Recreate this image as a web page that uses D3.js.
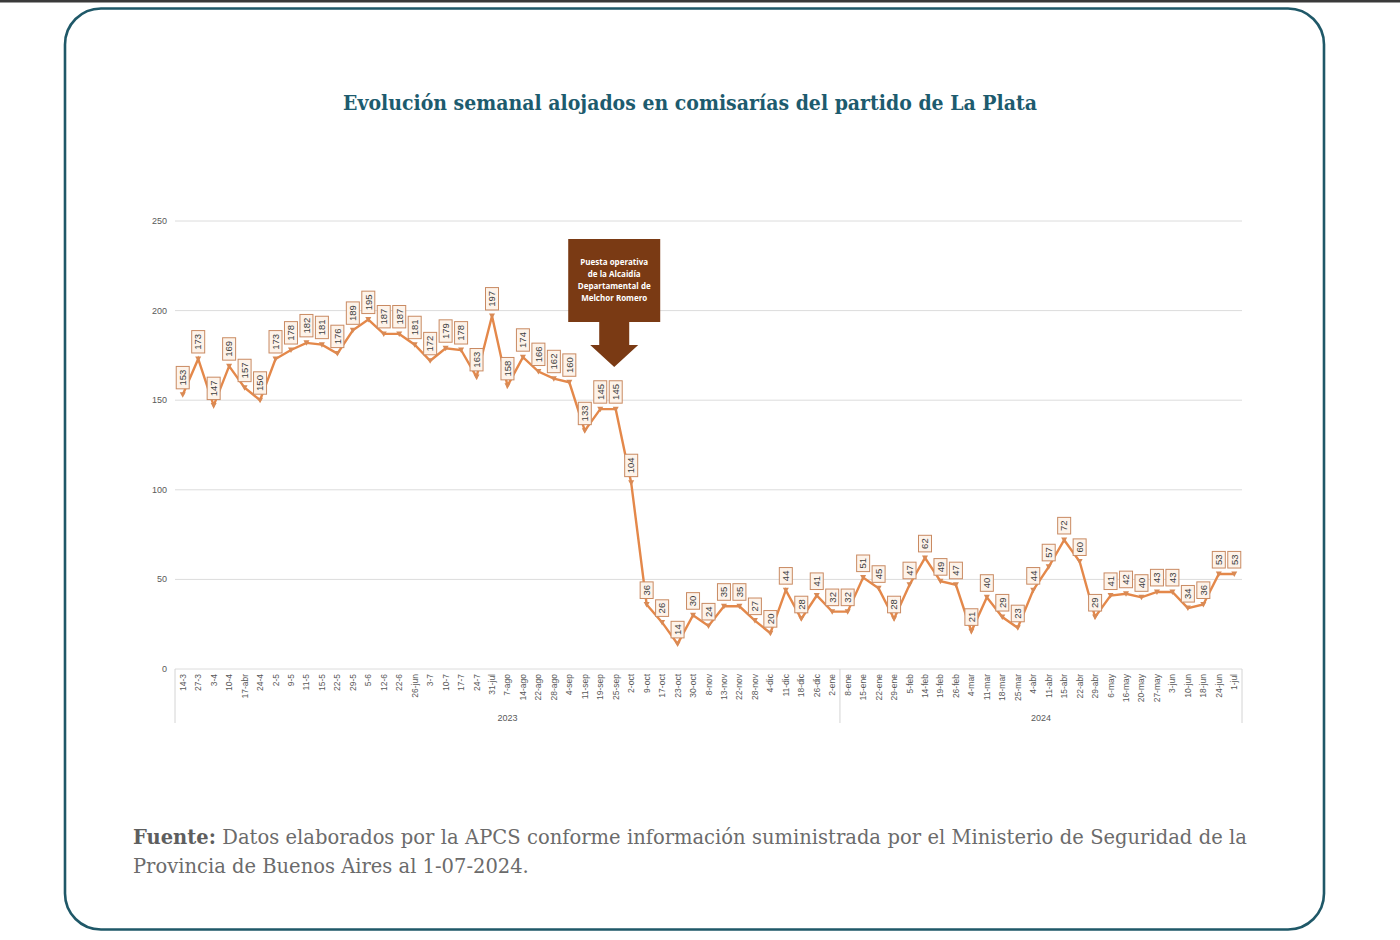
<!DOCTYPE html>
<html>
<head>
<meta charset="utf-8">
<script src="https://cdn.jsdelivr.net/npm/d3@7"></script>
<style>
  body { margin: 0; background: #fff; }
  svg { display: block; }
</style>
</head>
<body>
<svg width="1400" height="940"></svg>
<script>
const weeks2023 = ['14-3','27-3','3-4','10-4','17-abr','24-4','2-5','9-5','11-5','15-5',
  '22-5','29-5','5-6','12-6','22-6','26-jun','3-7','10-7','17-7','24-7',
  '31-jul','7-ago','14-ago','22-ago','28-ago','4-sep','11-sep','19-sep','25-sep','2-oct',
  '9-oct','17-oct','23-oct','30-oct','8-nov','13-nov','22-nov','28-nov','4-dic','11-dic',
  '18-dic','26-dic','2-ene'];
const weeks2024 = ['8-ene','15-ene','22-ene','29-ene','5-feb','14-feb','19-feb','26-feb','4-mar','11-mar',
  '18-mar','25-mar','4-abr','11-abr','15-abr','22-abr','29-abr','6-may','16-may','20-may',
  '27-may','3-jun','10-jun','18-jun','24-jun','1-jul'];
const alojados2023 = [153,173,147,169,157,150,173,178,182,181,
  176,189,195,187,187,181,172,179,178,163,
  197,158,174,166,162,160,133,145,145,104,
  36,26,14,30,24,35,35,27,20,44,
  28,41,32];
const alojados2024 = [32,51,45,28,47,62,49,47,21,40,
  29,23,44,57,72,60,29,41,42,40,
  43,43,34,36,53,53];
const yTicks = [0, 50, 100, 150, 200, 250];
const groups = ['2023', '2024'];
const annotationLines = ['Puesta operativa', 'de la Alcaidía', 'Departamental de', 'Melchor Romero'];
const annotationWeek = '25-sep';

const weeks = weeks2023.concat(weeks2024);
const values = alojados2023.concat(alojados2024);
const data = weeks.map((w, i) => ({ i: i, week: w, value: values[i] }));

const svg = d3.select('svg');
const serif = '"DejaVu Serif", "Liberation Serif", serif';
const sans = '"Liberation Sans", Arial, sans-serif';

// page decoration
svg.append('rect').attr('x', 0).attr('y', 0).attr('width', 1400).attr('height', 2.5).attr('fill', '#3a3a3a');
svg.append('rect')
  .attr('x', 65).attr('y', 8.5).attr('width', 1259).attr('height', 921)
  .attr('rx', 36).attr('ry', 36)
  .attr('fill', 'none').attr('stroke', '#1f5868').attr('stroke-width', 2.6);

svg.append('text')
  .attr('x', 690).attr('y', 110)
  .attr('text-anchor', 'middle')
  .attr('textLength', 694).attr('lengthAdjust', 'spacingAndGlyphs')
  .style('font-family', serif)
  .style('font-weight', 'bold')
  .style('font-size', '20px')
  .attr('fill', '#1d5b6e')
  .text('Evolución semanal alojados en comisarías del partido de La Plata');

// scales
const x = d3.scaleBand().domain(data.map(d => d.i)).range([175, 1242]);
const y = d3.scaleLinear().domain([0, 250]).range([669, 221]);
const cx = i => x(i) + x.bandwidth() / 2;

const chart = svg.append('g');

// grid + y labels
chart.selectAll('.grid').data(yTicks).enter().append('line')
  .attr('x1', 175).attr('x2', 1242)
  .attr('y1', d => y(d)).attr('y2', d => y(d))
  .attr('stroke', '#dcdcdc').attr('stroke-width', 1);

chart.selectAll('.ytick').data(yTicks).enter().append('text')
  .attr('x', 167).attr('y', d => y(d) + 3)
  .attr('text-anchor', 'end')
  .style('font-family', sans)
  .style('font-size', '9px')
  .attr('fill', '#595959')
  .text(d => d);

// x category labels
chart.selectAll('.xlab').data(data).enter().append('text')
  .attr('transform', d => 'translate(' + (cx(d.i) + 3) + ',674) rotate(-90)')
  .attr('text-anchor', 'end')
  .style('font-family', sans)
  .style('font-size', '8.5px')
  .attr('fill', '#595959')
  .text(d => d.week);

// group separators and labels
const groupBounds = [
  [x(0), x(weeks2023.length)],
  [x(weeks2023.length), x(weeks.length - 1) + x.bandwidth()]
];
const sepX = [groupBounds[0][0], groupBounds[1][0], groupBounds[1][1]];
chart.selectAll('.sep').data(sepX).enter().append('line')
  .attr('x1', d => d).attr('x2', d => d)
  .attr('y1', 669).attr('y2', 723)
  .attr('stroke', '#d4d4d4').attr('stroke-width', 1);

chart.selectAll('.glab').data(groups).enter().append('text')
  .attr('x', (d, i) => (groupBounds[i][0] + groupBounds[i][1]) / 2)
  .attr('y', 721)
  .attr('text-anchor', 'middle')
  .style('font-family', sans)
  .style('font-size', '9px')
  .attr('fill', '#595959')
  .text(d => d);

// line
const line = d3.line().x(d => cx(d.i)).y(d => y(d.value));
chart.append('path').datum(data)
  .attr('d', line)
  .attr('fill', 'none')
  .attr('stroke', '#e4884a')
  .attr('stroke-width', 2.4)
  .attr('stroke-linejoin', 'miter');

// callout labels
const lab = chart.selectAll('.lab').data(data).enter().append('g')
  .attr('transform', d => 'translate(' + cx(d.i) + ',' + y(d.value) + ')');

lab.append('path')
  .attr('d', 'M-3,-2.5 L3,-2.5 L0,3 Z')
  .attr('fill', '#d98a55');

const boxH = d => String(d.value).length * 5.8 + 5;
lab.append('rect')
  .attr('x', -6.5).attr('width', 13)
  .attr('y', d => -6 - boxH(d)).attr('height', boxH)
  .attr('fill', '#fdf3ea')
  .attr('stroke', '#c98a62').attr('stroke-width', 1);

lab.append('text')
  .attr('transform', d => 'translate(3.3,' + (-6 - boxH(d) / 2) + ') rotate(-90)')
  .attr('text-anchor', 'middle')
  .style('font-family', sans)
  .style('font-size', '9.5px')
  .attr('fill', '#404040')
  .text(d => d.value);

// annotation
const ax = cx(weeks.indexOf(annotationWeek)) - 1.5;
const ann = svg.append('g').attr('transform', 'translate(' + ax + ',0)');
ann.append('rect')
  .attr('x', -46).attr('y', 239).attr('width', 92).attr('height', 83)
  .attr('fill', '#7a3a14');
ann.append('path')
  .attr('d', 'M-15,321 L15,321 L15,345 L24,345 L0,367 L-24,345 L-15,345 Z')
  .attr('fill', '#7a3a14');
ann.selectAll('.al').data(annotationLines).enter().append('text')
  .attr('x', 0).attr('y', (d, i) => 265 + i * 12)
  .attr('text-anchor', 'middle')
  .style('font-family', '"Open Sans", "Noto Sans", sans-serif')
  .style('font-weight', 'bold')
  .style('font-size', '8px')
  .attr('fill', '#ffffff')
  .text(d => d);

// source note
const src1 = svg.append('text')
  .attr('x', 133).attr('y', 844)
  .style('font-family', serif)
  .style('font-size', '19.5px')
  .attr('fill', '#6b6b6b');
src1.append('tspan').style('font-weight', 'bold').attr('fill', '#5e5e5e').text('Fuente:');
src1.append('tspan').text(' Datos elaborados por la APCS conforme información suministrada por el Ministerio de Seguridad de la');
const len1 = src1.node().getComputedTextLength();
const spaces = 15;
src1.style('word-spacing', Math.max(0, (1247 - 133 - len1) / spaces) + 'px');

svg.append('text')
  .attr('x', 133).attr('y', 873)
  .style('font-family', serif)
  .style('font-size', '19.5px')
  .attr('fill', '#6b6b6b')
  .text('Provincia de Buenos Aires al 1-07-2024.');
</script>
</body>
</html>
